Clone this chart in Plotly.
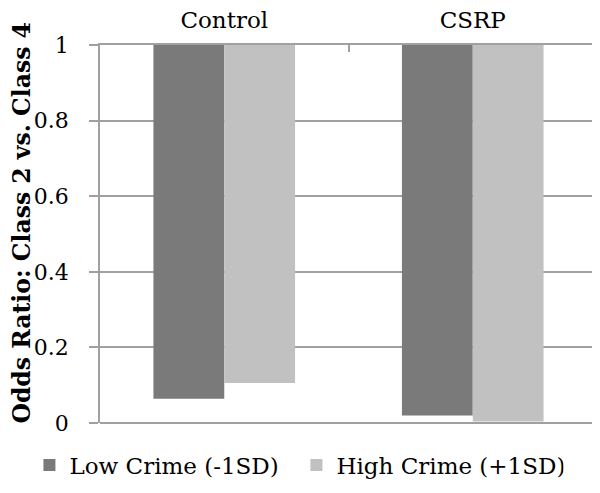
import plotly.graph_objects as go

categories = ["Control", "CSRP"]
low_crime = [0.064, 0.020]
high_crime = [0.106, 0.004]
series_names = ["Low Crime (-1SD)", "High Crime (+1SD)"]
series_colors = ["#7a7a7a", "#c1c1c1"]
ytick_vals = [0, 0.2, 0.4, 0.6, 0.8, 1.0]
ytick_text = ["0", "0.2", "0.4", "0.6", "0.8", "1"]
ref_line = 1.0

FONT = "DejaVu Serif"
GRID = "#a0a0a0"

fig = go.Figure()
for name, vals, col in zip(series_names, [low_crime, high_crime], series_colors):
    fig.add_trace(go.Bar(
        x=categories,
        y=[v - ref_line for v in vals],
        base=[ref_line] * len(vals),
        name=name,
        marker=dict(color=col, line=dict(width=0)),
        customdata=vals,
        hovertemplate="%{x}: %{customdata}<extra>" + name + "</extra>",
    ))

# page body has an 8px default margin, so the figure is 8px smaller
fig.update_layout(
    width=592, height=485,
    margin=dict(l=92, r=3, t=37, b=70, autoexpand=False),
    paper_bgcolor="white", plot_bgcolor="white",
    barmode="group", bargap=0.43, bargroupgap=0,
    font=dict(family=FONT, size=22, color="black"),
    showlegend=True,
    legend=dict(
        orientation="h", xref="paper", yref="paper",
        x=-0.142, xanchor="left", y=-0.111, yanchor="middle",
        font=dict(family=FONT, size=23, color="black"),
        traceorder="normal", entrywidth=222, entrywidthmode="pixels",
    ),
    xaxis=dict(
        side="top", type="category", tickson="boundaries",
        ticks="inside", ticklen=7, tickcolor=GRID, tickwidth=1.5,
        showline=True, linecolor=GRID, linewidth=1.5,
        showgrid=False, tickfont=dict(family=FONT, size=23),
        automargin=False, ticklabelstandoff=6,
    ),
    yaxis=dict(
        range=[0, 1], tickvals=ytick_vals, ticktext=ytick_text,
        ticks="outside", ticklen=9, tickcolor=GRID, tickwidth=1.5,
        showline=True, linecolor=GRID, linewidth=1.5,
        showgrid=True, gridcolor=GRID, gridwidth=1.5,
        zeroline=True, zerolinecolor=GRID, zerolinewidth=1.5,
        tickfont=dict(family=FONT, size=22),
        automargin=False, ticklabelstandoff=16,
        title=dict(text="&nbsp;&nbsp;&nbsp;<b>Odds Ratio: Class 2 vs. Class 4</b>",
                   font=dict(family=FONT, size=23.5), standoff=7),
    ),
)

fig.write_html("out.html")
